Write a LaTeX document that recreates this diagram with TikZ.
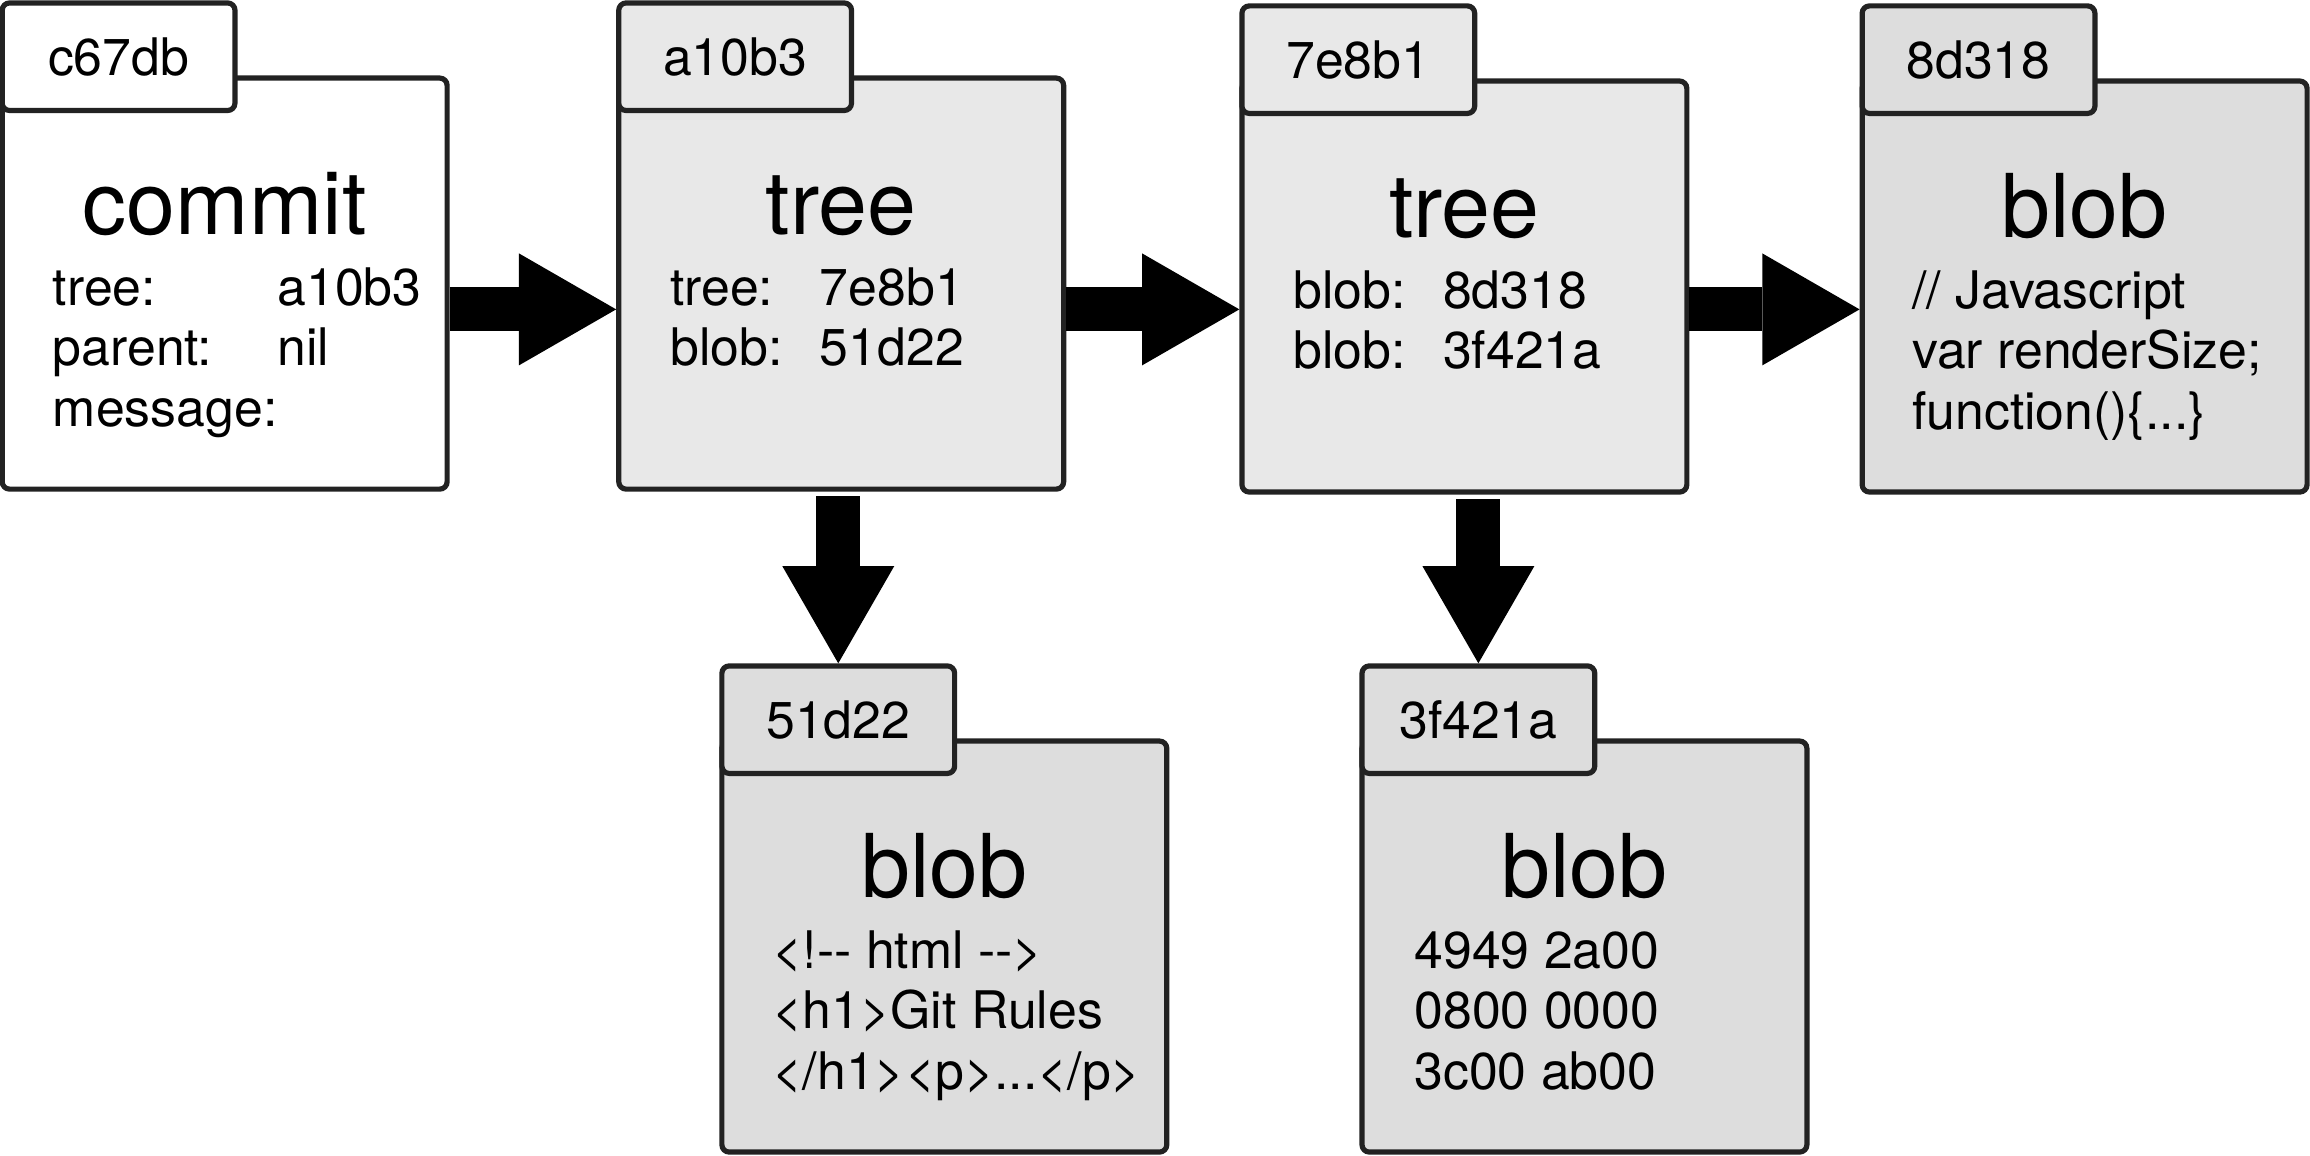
\documentclass[tikz,border=0pt]{standalone}
\usepackage{fontspec}
\setmainfont{TeX Gyre Heros}
\usepackage{xcolor}
\usetikzlibrary{arrows.meta,positioning}

\definecolor{treegray}{HTML}{E8E8E8}
\definecolor{blobgray}{HTML}{DDDDDD}
\definecolor{edgegray}{HTML}{222222}

\begin{document}
\begin{tikzpicture}[
  objbox/.style={draw=edgegray, line width=1pt, rounded corners=0.5mm, minimum width=3.02cm, minimum height=2.79cm, inner sep=0pt},
  objtab/.style={draw=edgegray, line width=1pt, rounded corners=0.5mm, minimum width=1.58cm, minimum height=0.73cm, inner sep=0pt, anchor=north west, font=\fontsize{10}{12}\selectfont},
  objtitle/.style={anchor=base, inner sep=0pt, font=\fontsize{17}{20}\selectfont},
  objline/.style={anchor=base west, inner sep=0pt, font=\fontsize{10}{12}\selectfont},
  bigarrow/.style={line width=0.3cm, -{Triangle[length=0.66cm, width=0.76cm, line width=0pt]}},
]
\useasboundingbox (0,0) rectangle (15.68,7.84);

% commit
\node[objbox, fill=white] (commit) at (1.525,5.915) {};
\node[objtab, fill=white] (committab) at ([yshift=0.51cm]commit.north west) {c67db};
\node[objtitle] (committitle) at ([yshift=-1.08cm]commit.north) {commit};
\node[objline] (ctree) at ([xshift=0.355cm,yshift=-1.56cm]commit.north west) {tree:};
\node[objline] (cparent) at ([xshift=0.355cm,yshift=-1.97cm]commit.north west) {parent:};
\node[objline] (cmsg) at ([xshift=0.355cm,yshift=-2.38cm]commit.north west) {message:};
\node[objline] (ctreeval) at ([xshift=1.88cm,yshift=-1.56cm]commit.north west) {a10b3};
\node[objline] (cparentval) at ([xshift=1.88cm,yshift=-1.97cm]commit.north west) {nil};

% tree a10b3
\node[objbox, fill=treegray] (tree1) at (5.71,5.915) {};
\node[objtab, fill=treegray] (tree1tab) at ([yshift=0.51cm]tree1.north west) {a10b3};
\node[objtitle] (tree1title) at ([yshift=-1.08cm]tree1.north) {tree};
\node[objline] (t1key1) at ([xshift=0.36cm,yshift=-1.56cm]tree1.north west) {tree:};
\node[objline] (t1key2) at ([xshift=0.36cm,yshift=-1.97cm]tree1.north west) {blob:};
\node[objline] (t1val1) at ([xshift=1.376cm,yshift=-1.56cm]tree1.north west) {7e8b1};
\node[objline] (t1val2) at ([xshift=1.376cm,yshift=-1.97cm]tree1.north west) {51d22};

% tree 7e8b1
\node[objbox, fill=treegray] (tree2) at (9.94,5.895) {};
\node[objtab, fill=treegray] (tree2tab) at ([yshift=0.51cm]tree2.north west) {7e8b1};
\node[objtitle] (tree2title) at ([yshift=-1.08cm]tree2.north) {tree};
\node[objline] (t2key1) at ([xshift=0.36cm,yshift=-1.56cm]tree2.north west) {blob:};
\node[objline] (t2key2) at ([xshift=0.36cm,yshift=-1.97cm]tree2.north west) {blob:};
\node[objline] (t2val1) at ([xshift=1.376cm,yshift=-1.56cm]tree2.north west) {8d318};
\node[objline] (t2val2) at ([xshift=1.376cm,yshift=-1.97cm]tree2.north west) {3f421a};

% blob 8d318
\node[objbox, fill=blobgray] (blobjs) at (14.15,5.895) {};
\node[objtab, fill=blobgray] (blobjstab) at ([yshift=0.51cm]blobjs.north west) {8d318};
\node[objtitle] (blobjstitle) at ([yshift=-1.08cm]blobjs.north) {blob};
\node[objline] (js1) at ([xshift=0.35cm,yshift=-1.56cm]blobjs.north west) {// Javascript};
\node[objline] (js2) at ([xshift=0.35cm,yshift=-1.97cm]blobjs.north west) {var renderSize;};
\node[objline] (js3) at ([xshift=0.35cm,yshift=-2.38cm]blobjs.north west) {function()\{...\}};

% blob 51d22
\node[objbox, fill=blobgray] (blobhtml) at (6.41,1.415) {};
\node[objtab, fill=blobgray] (blobhtmltab) at ([yshift=0.51cm]blobhtml.north west) {51d22};
\node[objtitle] (blobhtmltitle) at ([yshift=-1.08cm]blobhtml.north) {blob};
\node[objline] (html1) at ([xshift=0.355cm,yshift=-1.56cm]blobhtml.north west) {<!-{}- html -{}->};
\node[objline] (html2) at ([xshift=0.355cm,yshift=-1.97cm]blobhtml.north west) {<h1>Git Rules};
\node[objline] (html3) at ([xshift=0.355cm,yshift=-2.38cm]blobhtml.north west) {</h1><p>...</p>};

% blob 3f421a
\node[objbox, fill=blobgray] (blobbin) at (10.755,1.415) {};
\node[objtab, fill=blobgray] (blobbintab) at ([yshift=0.51cm]blobbin.north west) {3f421a};
\node[objtitle] (blobbintitle) at ([yshift=-1.08cm]blobbin.north) {blob};
\node[objline] (bin1) at ([xshift=0.367cm,yshift=-1.56cm]blobbin.north west) {4949 2a00};
\node[objline] (bin2) at ([xshift=0.367cm,yshift=-1.97cm]blobbin.north west) {0800 0000};
\node[objline] (bin3) at ([xshift=0.367cm,yshift=-2.38cm]blobbin.north west) {3c00 ab00};

% pointers
\draw[bigarrow] (commit.east |- 0,5.74) -- (tree1.west |- 0,5.74);
\draw[bigarrow] (tree1.east |- 0,5.74) -- (tree2.west |- 0,5.74);
\draw[bigarrow] (tree2.east |- 0,5.74) -- (blobjs.west |- 0,5.74);
\draw[bigarrow] ([yshift=-0.03cm]blobhtmltab.north |- tree1.south) -- (blobhtmltab.north);
\draw[bigarrow] ([yshift=-0.03cm]blobbintab.north |- tree2.south) -- (blobbintab.north);

\end{tikzpicture}
\end{document}
